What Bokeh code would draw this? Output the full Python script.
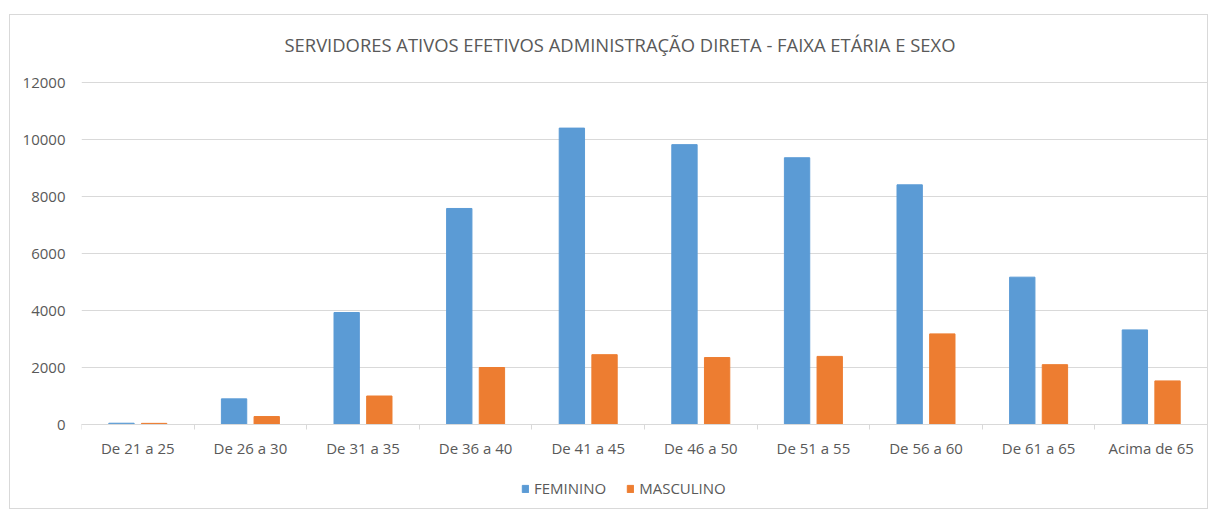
from bokeh.plotting import figure
from bokeh.models import (ColumnDataSource, Legend, LegendItem, Range1d,
                          LinearAxis, FixedTicker, CustomJSTickFormatter, Label)
from bokeh.transform import dodge
from bokeh.embed import file_html
from bokeh.resources import INLINE

categories = ["De 21 a 25", "De 26 a 30", "De 31 a 35", "De 36 a 40", "De 41 a 45",
              "De 46 a 50", "De 51 a 55", "De 56 a 60", "De 61 a 65", "Acima de 65"]
feminino = [45, 900, 3930, 7580, 10400, 9820, 9360, 8410, 5170, 3320]
masculino = [40, 280, 1000, 2000, 2450, 2350, 2390, 3180, 2100, 1530]
y_ticks = [0, 2000, 4000, 6000, 8000, 10000, 12000]
title_text = "SERVIDORES ATIVOS EFETIVOS ADMINISTRAÇÃO DIRETA - FAIXA ETÁRIA E SEXO"

BLUE = "#5B9BD5"
ORANGE = "#ED7D31"
TXT = "#595959"
GRID = "#D9D9D9"
FONT = "Open Sans"

n = len(categories)
centers = [i + 0.5 for i in range(n)]
src = ColumnDataSource(dict(x=centers, cat=categories, f=feminino, m=masculino))

p = figure(x_range=Range1d(0, n), y_range=(-3017, 14351),
           width=1199, height=495, output_backend="svg", toolbar_location=None,
           min_border_left=71, min_border_right=2, min_border_top=0, min_border_bottom=0)
p.styles = {"border": "1px solid #D9D9D9", "margin-left": "9px", "margin-top": "14px"}
p.title.visible = False

rf = p.vbar(x=dodge("x", -0.145), top="f", width=0.225, source=src,
            fill_color=BLUE, line_color=BLUE)
rm = p.vbar(x=dodge("x", 0.145), top="m", width=0.225, source=src,
            fill_color=ORANGE, line_color=ORANGE)

p.outline_line_color = None
p.xgrid.grid_line_color = None
p.ygrid.grid_line_color = GRID
p.ygrid.grid_line_width = 1

p.yaxis.ticker = FixedTicker(ticks=y_ticks)
p.yaxis.axis_line_color = None
p.yaxis.major_tick_line_color = None
p.yaxis.minor_tick_line_color = None
p.yaxis.major_label_standoff = 10
p.yaxis.major_label_text_font = FONT
p.yaxis.major_label_text_font_size = "15px"
p.yaxis.major_label_text_color = TXT

# category labels at bar-group centers
xa = p.xaxis[0]
xa.fixed_location = 0
xa.ticker = FixedTicker(ticks=centers, minor_ticks=[])
xa.formatter = CustomJSTickFormatter(args=dict(labels=categories),
                                     code="return labels[Math.floor(tick)]")
xa.axis_line_color = GRID
xa.major_tick_line_color = None
xa.minor_tick_line_color = None
xa.major_label_standoff = 7
xa.major_label_text_font = FONT
xa.major_label_text_font_size = "15px"
xa.major_label_text_color = TXT

# tick marks between categories (Excel style)
tick_axis = LinearAxis(fixed_location=0,
                       ticker=FixedTicker(ticks=list(range(n + 1)), minor_ticks=[]),
                       formatter=CustomJSTickFormatter(code="return ''"),
                       axis_line_color=GRID, major_tick_line_color=GRID,
                       major_tick_out=5, major_tick_in=0, minor_tick_line_color=None)
p.add_layout(tick_axis, "below")

p.add_layout(Label(x=203, y=466, x_units="screen", y_units="screen", text=title_text,
                   text_font=FONT, text_font_size="18.4px", text_color=TXT,
                   text_align="left", text_baseline="middle"))

legend = Legend(items=[LegendItem(label="FEMININO", renderers=[rf]),
                       LegendItem(label="MASCULINO", renderers=[rm])],
                orientation="horizontal", location=(440, 12),
                padding=0, margin=0, spacing=20, label_standoff=5,
                glyph_width=8, glyph_height=9, border_line_color=None,
                background_fill_alpha=0,
                label_text_font=FONT, label_text_font_size="15px", label_text_color=TXT)
p.add_layout(legend, "center")

open("out.html", "w").write(file_html(p, INLINE))
